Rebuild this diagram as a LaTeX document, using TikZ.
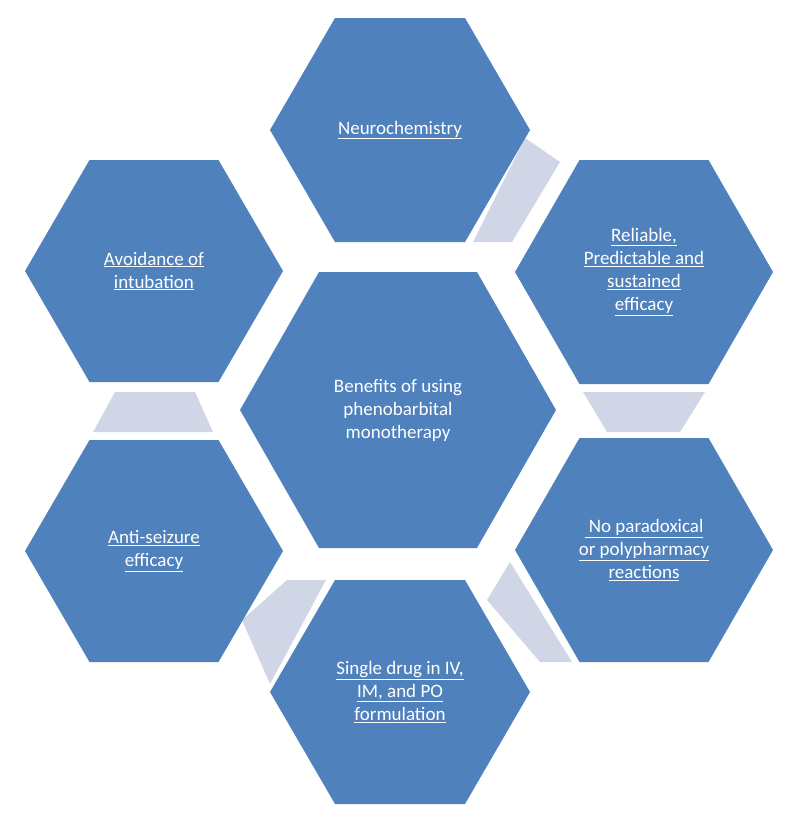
\documentclass[tikz,border=0pt]{standalone}
\usepackage{fontspec}
\setmainfont{Carlito}
\definecolor{hexblue}{HTML}{4F81BD}
\definecolor{conn}{HTML}{D0D6E5}
\begin{document}
\begin{tikzpicture}[x=1pt,y=-1pt,
  hex/.style={fill=hexblue,draw=none},
  lbl/.style={text=white,align=center,font=\fontsize{19}{23}\selectfont},
  cn/.style={fill=conn,draw=none}]
\useasboundingbox (0,0) rectangle (800,819);
\newcommand{\hexa}[4]{% cx cy halfwidth halfheight
  \fill[hexblue] (#1-#3,#2) -- (#1-#3/2,#2-#4) -- (#1+#3/2,#2-#4) -- (#1+#3,#2) -- (#1+#3/2,#2+#4) -- (#1-#3/2,#2+#4) -- cycle;}
% connectors
\fill[cn] (525,138) -- (560,162) -- (512,242) -- (473,242) -- cycle;
\fill[cn] (583,392) -- (705,392) -- (680,432) -- (607,432) -- cycle;
\fill[cn] (510,562) -- (572,662) -- (540,662) -- (487,600) -- cycle;
\fill[cn] (287,580) -- (326,580) -- (270,684) -- (242,620) -- cycle;
\fill[cn] (115,392) -- (195,392) -- (213,432) -- (93,432) -- cycle;
% hexagons
\hexa{400}{130}{130}{112}
\hexa{398}{410}{158}{138}
\hexa{644}{272}{129}{112}
\hexa{644}{550}{129}{112}
\hexa{400}{692}{130}{112}
\hexa{154}{551}{129}{111}
\hexa{154}{271}{129}{111}
\node[lbl] (n1) at (400,130) {\underline{Neurochemistry}};
\node[lbl] (c) at (398,410) {Benefits of using\\phenobarbital\\monotherapy};
\node[lbl] (n2) at (644,272) {\underline{Reliable,}\\\underline{Predictable and}\\\underline{sustained}\\\underline{efficacy}};
\node[lbl] (n3) at (644,550) {\underline{\ No paradoxical}\\\underline{or polypharmacy}\\\underline{reactions}};
\node[lbl] (n4) at (400,692) {\underline{Single drug in IV,}\\\underline{IM, and PO}\\\underline{formulation}};
\node[lbl] (n5) at (154,551) {\underline{Anti-seizure}\\\underline{efficacy}};
\node[lbl] (n6) at (154,271) {\underline{Avoidance of}\\\underline{intubation}};
\end{tikzpicture}
\end{document}
